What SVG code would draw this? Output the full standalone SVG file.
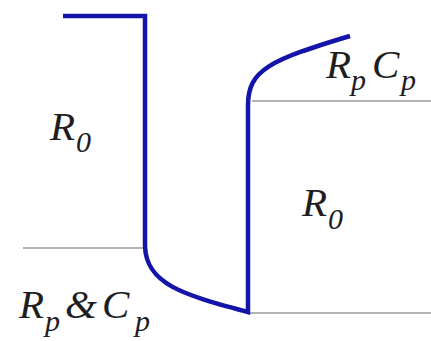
<svg xmlns="http://www.w3.org/2000/svg" width="431" height="341" viewBox="0 0 431 341">
<style>
.g{stroke:#b4b4b4;stroke-width:2;fill:none}
.b{stroke:#1414aa;stroke-width:4.5;fill:none;stroke-linejoin:miter}
.t{font-family:"Liberation Serif","Times New Roman",serif;font-style:italic;fill:#1e1e1e}
.m{font-size:41px}
.s{font-size:30px}
</style>
<rect width="431" height="341" fill="#fff"/>
<g id="levels">
<line class="g" x1="23" y1="248" x2="146" y2="248"/>
<line class="g" x1="252" y1="101" x2="431" y2="101"/>
<line class="g" x1="250" y1="313" x2="431" y2="313"/>
</g>
<g id="trace">
<path class="b" d="M63,16 H145 V246 C146,285 185,295 248,312 V105 C248,70 270,60 350,36"/>
</g>
<g id="labels">
<text class="t" x="50" y="140"><tspan class="m">R</tspan><tspan class="s" x="76" y="152">0</tspan></text>
<text class="t" x="302" y="216"><tspan class="m">R</tspan><tspan class="s" x="328" y="229">0</tspan></text>
<text class="t" x="326" y="78"><tspan class="m">R</tspan><tspan class="s" x="351" y="90">p</tspan><tspan class="m" x="372" y="78">C</tspan><tspan class="s" x="401" y="90">p</tspan></text>
<text class="t" x="19" y="318"><tspan class="m">R</tspan><tspan class="s" x="45" y="331">p</tspan><tspan class="m" x="65" y="318">&amp;</tspan><tspan class="m" x="102" y="318">C</tspan><tspan class="s" x="135" y="331">p</tspan></text>
</g>
</svg>
